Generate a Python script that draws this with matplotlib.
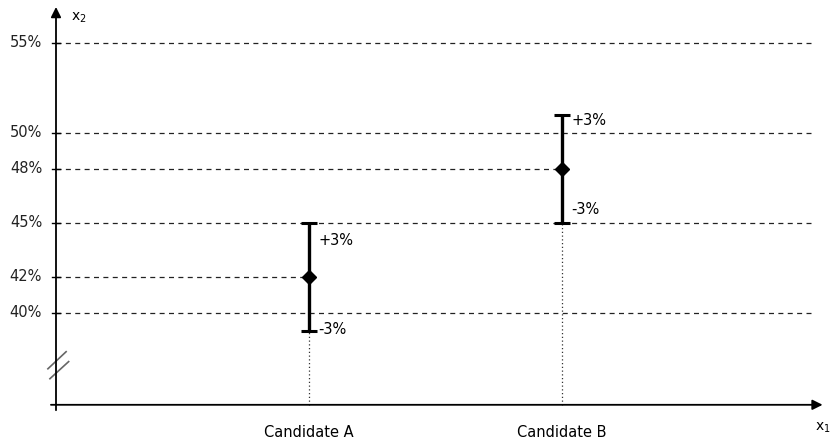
import matplotlib.pyplot as plt

# data
candidates = ['Candidate A', 'Candidate B']
cand_x = [1, 2]
estimates = [42, 48]
margin = [3, 3]
grid_full = [55, 50, 45, 40]
tick_levels = [55, 50, 48, 45, 42, 40]
tick_labels = ['55%', '50%', '48%', '45%', '42%', '40%']

plt.rcParams['font.family'] = ['DejaVu Sans']

fig = plt.figure(figsize=(8.35, 4.4), dpi=100)
ax = fig.add_axes([0, 0, 1, 1])
ax.set_xlim(-56 / 253, 779 / 253)
ax.set_ylim(55 - 397 / 18, 55 + 43 / 18)
ax.axis('off')

x_axis_y = 34.9
x_end = 3.0

# full dashed grid lines
for v in grid_full:
    ax.plot([0, x_end], [v, v], color='#222222', lw=0.9, ls=(0, (4, 3.5)))

# short dashed lines from axis to estimate
for x, v in zip(cand_x, estimates):
    ax.plot([0, x], [v, v], color='#222222', lw=0.9, ls=(0, (4, 3.5)))
    ax.plot([x, x], [x_axis_y, v - 3], color='#333333', lw=0.9, ls=(0, (1, 2)))

# tick marks and labels on y axis
for v, lab in zip(tick_levels, tick_labels):
    ax.plot([-0.016, 0.016], [v, v], color='black', lw=1)
    ax.text(-0.055, v, lab, ha='right', va='center', fontsize=10.5, color='#222222')

# axes
ax.annotate('', xy=(0, 57.0), xytext=(0, 34.6),
            arrowprops=dict(arrowstyle='-|>', color='black', lw=1.3,
                            mutation_scale=15, shrinkA=0, shrinkB=0))
ax.annotate('', xy=(3.03, x_axis_y), xytext=(-0.02, x_axis_y),
            arrowprops=dict(arrowstyle='-|>', color='black', lw=1.3,
                            mutation_scale=15, shrinkA=0, shrinkB=0))
ax.text(0.06, 56.4, 'x$_2$', ha='left', va='center', fontsize=10)
ax.text(3.0, 33.6, 'x$_1$', ha='left', va='center', fontsize=10)

# axis break marks
ax.plot([-0.032, 0.04], [36.9, 37.85], color='#666666', lw=1.2)
ax.plot([-0.024, 0.05], [36.35, 37.3], color='#666666', lw=1.2)

# error bars
ax.errorbar(cand_x, estimates, yerr=margin, fmt='D', color='black', ms=7,
            lw=2.4, capsize=5.5, capthick=2.2)

# label offsets (relative to bar ends) differ a bit per candidate
up_off = [-0.95, -0.3]
low_off = [0.1, 0.75]
for x, v, m, uo, lo in zip(cand_x, estimates, margin, up_off, low_off):
    ax.text(x + 0.036, v + m + uo, f'+{m}%', ha='left', va='center', fontsize=10.5)
    ax.text(x + 0.036, v - m + lo, f'-{m}%', ha='left', va='center', fontsize=10.5)

for x, name in zip(cand_x, candidates):
    ax.text(x, 33.35, name, ha='center', va='center', fontsize=10.5)

fig.savefig('out.png', dpi=100)
